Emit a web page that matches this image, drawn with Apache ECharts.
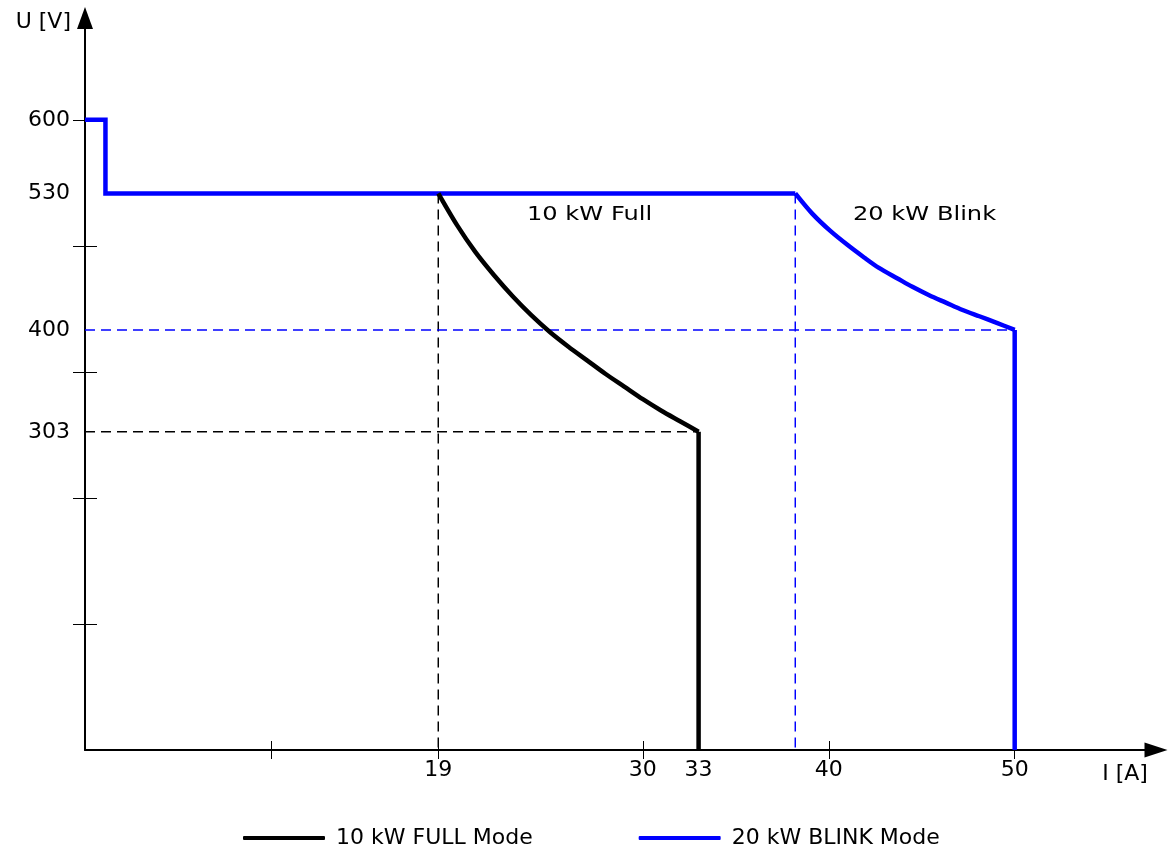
<!DOCTYPE html>
<html>
<head>
<meta charset="utf-8">
<title>U-I characteristic</title>
<script src="https://cdn.jsdelivr.net/npm/echarts@6/dist/echarts.min.js"></script>
<style>
  html, body { margin: 0; padding: 0; background: #ffffff; }
  #chart { width: 1170px; height: 850px; }
</style>
</head>
<body>
<div id="chart"></div>
<script>
// Operating limits of the inverter: output current I [A] against voltage U [V]

// 10 kW FULL mode: constant-power curve from 530 V down to 303 V, then the 33 A current limit
const fullCurrent = [19, 20, 21, 22, 23, 24, 25, 26, 27, 28, 29, 30, 31, 32, 33, 33];
const fullVoltage = [530, 500, 474, 452, 432, 414, 398, 384, 371, 358, 346, 334, 323, 313, 303, 0];
// index range of the constant-power curve inside the arrays above
const fullCurve = [0, 14];

// 20 kW BLINK mode: 600 V step, 530 V plateau, constant-power curve to 400 V, then the 50 A limit
const blinkCurrent = [0, 1.1, 1.1, 38.2, 39.1, 40.1, 41.0, 41.9, 42.7, 43.7, 44.5, 45.4, 46.3, 47.2, 48.1, 49.0, 50, 50];
const blinkVoltage = [600, 600, 530, 530, 511, 494, 481, 469, 459, 449, 441, 433, 426, 419, 413, 407, 400, 0];
const blinkCurve = [3, 16];

// Dashed guide lines (current, voltage pairs)
const fullGuideV = { current: [19, 19], voltage: [530, 0] };
const fullGuideH = { current: [0, 33], voltage: [303, 303] };
const blinkGuideV = { current: [38.2, 38.2], voltage: [530, 0] };
const blinkGuideH = { current: [0, 50], voltage: [400, 400] };

// Axis ticks and labels
const currentLabels = [19, 30, 33, 40, 50];
const currentTicks = [10, 19, 30, 40, 50];
const voltageLabels = [303, 400, 530, 600];
const voltageTicks = [120, 240, 360, 480];
const voltageOuterTicks = [120, 240, 360, 480, 600];

const seriesNames = ['10 kW FULL Mode', '20 kW BLINK Mode'];
const annotations = ['10 kW Full', '20 kW Blink'];

const FONT = "'DejaVu Sans', 'Liberation Sans', sans-serif";
const BLUE = '#0000ff';
const BLACK = '#000000';

function pairs(xs, ys) {
  return xs.map((x, i) => [x, ys[i]]);
}

const xRange = { min: 0, max: 57.6 };
const yRange = { min: 0, max: 697 };

function guide(data, color) {
  return {
    type: 'line',
    data: pairs(data.current, data.voltage),
    symbol: 'none',
    silent: true,
    z: 1,
    lineStyle: { color: color, width: 1.5, type: [10, 6] }
  };
}

// One characteristic is drawn as straight pieces plus a smoothed constant-power curve,
// all under the same series name so the legend shows a single entry.
function characteristic(name, xs, ys, curve, color, z) {
  const pts = pairs(xs, ys);
  const base = {
    name: name,
    type: 'line',
    symbol: 'none',
    z: z,
    color: color,
    itemStyle: { color: color },
    lineStyle: { color: color, width: 4.5, join: 'miter', cap: 'butt' }
  };
  const parts = [];
  if (curve[0] > 0) parts.push({ data: pts.slice(0, curve[0] + 1), smooth: false });
  parts.push({ data: pts.slice(curve[0], curve[1] + 1), smooth: 0.3 });
  if (curve[1] < pts.length - 1) parts.push({ data: pts.slice(curve[1]), smooth: false });
  return parts.map(p => Object.assign({}, base, p));
}

const chart = echarts.init(document.getElementById('chart'), null, { renderer: 'canvas' });

chart.setOption({
  animation: false,
  backgroundColor: '#ffffff',
  grid: { left: 85, right: 14, top: 18, bottom: 100, containLabel: false },
  xAxis: [
    {
      type: 'value',
      position: 'bottom',
      min: xRange.min,
      max: xRange.max,
      name: 'I [A]',
      nameLocation: 'end',
      nameGap: -31,
      nameTextStyle: {
        fontFamily: FONT, fontSize: 22, color: BLACK,
        align: 'center', verticalAlign: 'top', padding: [13, 0, 0, 0]
      },
      axisLine: {
        show: true,
        symbol: ['none', 'triangle'],
        symbolSize: [15, 23],
        symbolOffset: [0, 0],
        lineStyle: { color: BLACK, width: 2 }
      },
      axisTick: {
        show: true, inside: false, length: 9,
        customValues: currentTicks,
        lineStyle: { color: BLACK, width: 1 }
      },
      axisLabel: {
        show: true, margin: 9,
        customValues: currentLabels,
        fontFamily: FONT, fontSize: 22, color: BLACK
      },
      splitLine: { show: false }
    },
    {
      // inner half of the crossing ticks
      type: 'value',
      position: 'bottom',
      min: xRange.min,
      max: xRange.max,
      axisLine: { show: false },
      axisTick: {
        show: true, inside: true, length: 9,
        customValues: currentTicks,
        lineStyle: { color: BLACK, width: 1 }
      },
      axisLabel: { show: false },
      splitLine: { show: false }
    }
  ],
  yAxis: [
    {
      type: 'value',
      position: 'left',
      min: yRange.min,
      max: yRange.max,
      name: 'U [V]',
      nameLocation: 'end',
      nameGap: -4,
      nameTextStyle: {
        fontFamily: FONT, fontSize: 22, color: BLACK,
        align: 'right', verticalAlign: 'middle', padding: [0, 14, 0, 0]
      },
      axisLine: {
        show: true,
        symbol: ['none', 'triangle'],
        symbolSize: [16, 22],
        symbolOffset: [0, 0],
        lineStyle: { color: BLACK, width: 2 }
      },
      axisTick: {
        show: true, inside: false, length: 12,
        customValues: voltageOuterTicks,
        lineStyle: { color: BLACK, width: 1 }
      },
      axisLabel: {
        show: true, margin: 15,
        customValues: voltageLabels,
        fontFamily: FONT, fontSize: 22, color: BLACK
      },
      splitLine: { show: false }
    },
    {
      // inner half of the crossing ticks
      type: 'value',
      position: 'left',
      min: yRange.min,
      max: yRange.max,
      axisLine: { show: false },
      axisTick: {
        show: true, inside: true, length: 12,
        customValues: voltageTicks,
        lineStyle: { color: BLACK, width: 1 }
      },
      axisLabel: { show: false },
      splitLine: { show: false }
    }
  ],
  legend: {
    data: seriesNames,
    left: 238,
    top: 822,
    itemWidth: 82,
    itemHeight: 4,
    itemGap: 106,
    icon: 'roundRect',
    textStyle: {
      fontFamily: FONT, fontSize: 22, color: BLACK,
      padding: [0, 0, 0, 6]
    },
    selectedMode: false
  },
  graphic: [
    {
      type: 'text', x: 527, y: 215, scaleX: 1.27,
      style: { text: annotations[0], font: '19px ' + FONT, fill: BLACK, verticalAlign: 'middle' }
    },
    {
      type: 'text', x: 853, y: 215, scaleX: 1.27,
      style: { text: annotations[1], font: '19px ' + FONT, fill: BLACK, verticalAlign: 'middle' }
    }
  ],
  series: [
    guide(fullGuideV, BLACK),
    guide(fullGuideH, BLACK),
    guide(blinkGuideV, BLUE),
    guide(blinkGuideH, BLUE)
  ].concat(
    characteristic(seriesNames[0], fullCurrent, fullVoltage, fullCurve, BLACK, 3),
    characteristic(seriesNames[1], blinkCurrent, blinkVoltage, blinkCurve, BLUE, 2)
  )
});
</script>
</body>
</html>
